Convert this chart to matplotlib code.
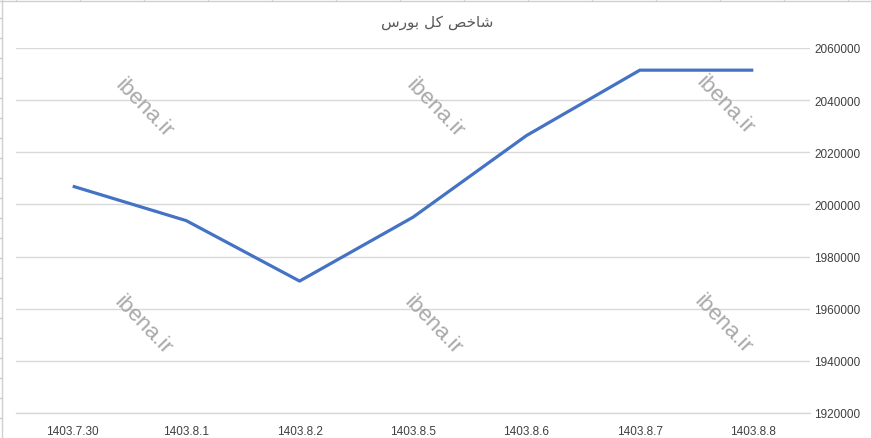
import matplotlib
matplotlib.use('Agg')
import matplotlib.pyplot as plt
from matplotlib.lines import Line2D

# داده‌ها: شاخص کل بورس
dates = ['1403.7.30', '1403.8.1', '1403.8.2', '1403.8.5', '1403.8.6', '1403.8.7', '1403.8.8']
index_values = [2007000, 1993800, 1970600, 1995100, 2026400, 2051500, 2051500]
y_ticks = [1920000, 1940000, 1960000, 1980000, 2000000, 2020000, 2040000, 2060000]
title_text = 'شاخص کل بورس'
watermark = 'ibena.ir'

# Persian shaping (matplotlib has no bidi/shaping): isolated, final, initial, medial
forms = {
    'ا': ('\uFE8D', '\uFE8E', None, None),
    'ب': ('\uFE8F', '\uFE90', '\uFE91', '\uFE92'),
    'خ': ('\uFEA5', '\uFEA6', '\uFEA7', '\uFEA8'),
    'ر': ('\uFEAD', '\uFEAE', None, None),
    'س': ('\uFEB1', '\uFEB2', '\uFEB3', '\uFEB4'),
    'ش': ('\uFEB5', '\uFEB6', '\uFEB7', '\uFEB8'),
    'ص': ('\uFEB9', '\uFEBA', '\uFEBB', '\uFEBC'),
    'ک': ('\uFB8E', '\uFB8F', '\uFB90', '\uFB91'),
    'ل': ('\uFEDD', '\uFEDE', '\uFEDF', '\uFEE0'),
    'و': ('\uFEED', '\uFEEE', None, None),
}


def shape(text):
    out = []
    for i, ch in enumerate(text):
        if ch not in forms:
            out.append(ch)
            continue
        prev = text[i - 1] if i > 0 else ' '
        nxt = text[i + 1] if i + 1 < len(text) else ' '
        joins_prev = prev in forms and forms[prev][2] is not None
        joins_next = nxt in forms and forms[ch][2] is not None
        iso, fin, ini, med = forms[ch]
        if joins_prev and joins_next:
            out.append(med)
        elif joins_prev:
            out.append(fin)
        elif joins_next:
            out.append(ini)
        else:
            out.append(iso)
    return ''.join(reversed(out))


W, H = 871, 439
fig = plt.figure(figsize=(W / 100, H / 100), dpi=100)
ax = fig.add_axes([16 / W, 1 - 414 / H, (810 - 16) / W, (414 - 49) / H])

x = list(range(len(dates)))
ax.plot(x, index_values, color='#4472C4', linewidth=2.3, solid_capstyle='butt', zorder=3)

ax.set_xlim(-0.5, len(dates) - 0.5)
ax.set_ylim(1920000, 2060000)
ax.set_yticks(y_ticks)
ax.set_yticklabels([str(v) for v in y_ticks])
ax.set_xticks(x)
ax.set_xticklabels(dates)
ax.yaxis.tick_right()
ax.tick_params(axis='both', length=0, labelsize=8.5, labelcolor='#404040')
ax.tick_params(axis='y', pad=3)
ax.tick_params(axis='x', pad=9)
for lab in ax.get_xticklabels() + ax.get_yticklabels():
    lab.set_fontfamily('Liberation Sans')
ax.grid(axis='y', color='#d9d9d9', linewidth=1)
ax.set_axisbelow(True)
for s in ['left', 'right', 'top']:
    ax.spines[s].set_visible(False)
ax.spines['bottom'].set_color('#d9d9d9')
ax.spines['bottom'].set_linewidth(1)

fig.text(437 / W, 1 - 22 / H, shape(title_text), ha='center', va='center',
         fontsize=11, color='#595959', family=['DejaVu Sans'])

# واترمارک
for px, py in [(144, 108), (435, 108), (725, 105), (143, 325), (433, 325), (723, 324)]:
    fig.text(px / W, 1 - py / H, watermark, ha='center', va='center', rotation=-46,
             fontsize=16, color='#a8a8a8', family='Liberation Sans', zorder=5)

# sheet borders at top and left
fig.add_artist(Line2D([0, 1], [1 - 1.5 / H, 1 - 1.5 / H], color='#d0d0d0', linewidth=1))
fig.add_artist(Line2D([2 / W, 2 / W], [0, 1], color='#d0d0d0', linewidth=1))
for cx in range(16, W, 64):
    fig.add_artist(Line2D([cx / W, cx / W], [1 - 1.5 / H, 1], color='#d0d0d0', linewidth=1))
for ry in range(19, H, 20):
    fig.add_artist(Line2D([0, 2 / W], [1 - ry / H, 1 - ry / H], color='#d0d0d0', linewidth=1))

fig.savefig('out.png', dpi=100)
